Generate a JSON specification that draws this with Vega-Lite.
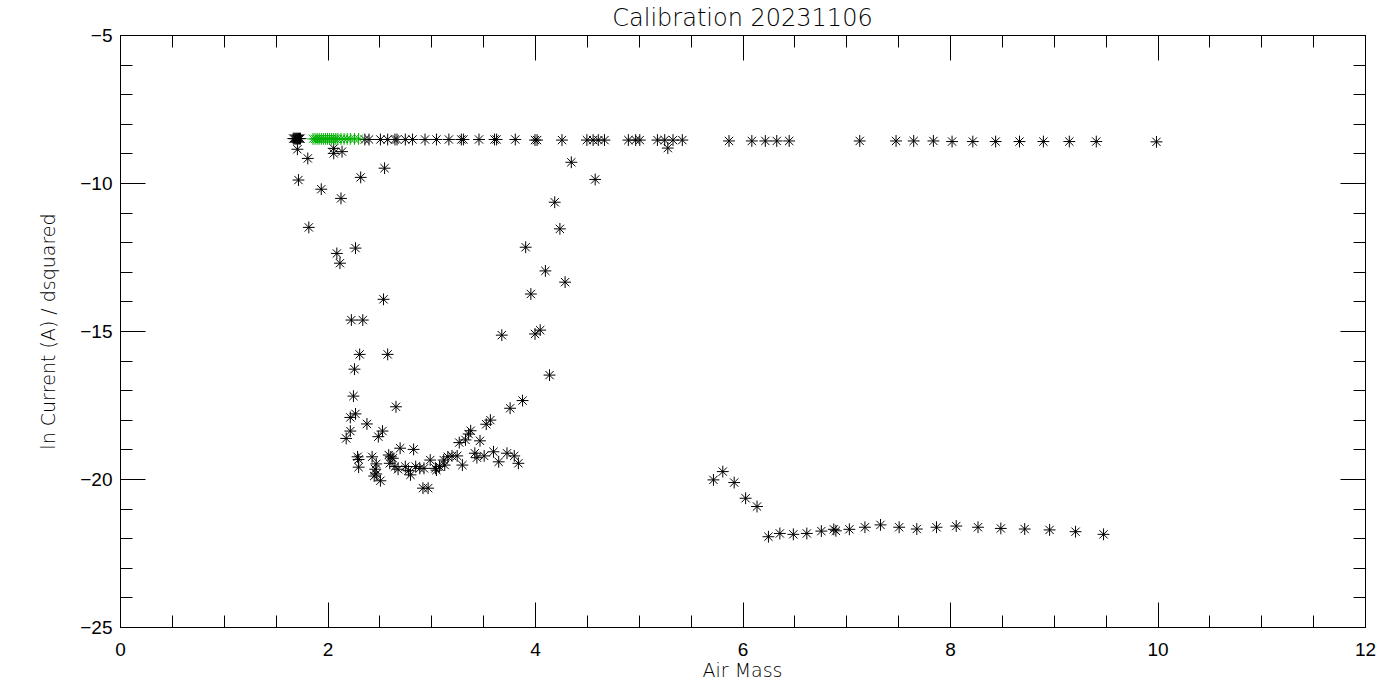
{
  "$schema": "https://vega.github.io/schema/vega-lite/v6.json",
  "autosize": "none",
  "width": 1245,
  "height": 592,
  "padding": {"left": 120, "top": 35, "right": 35, "bottom": 73},
  "background": "white",
  "config": {
    "view": {"stroke": "black", "strokeWidth": 1},
    "font": "DejaVu Sans",
    "axis": {"domainColor": "black", "tickColor": "black", "labelColor": "black", "titleColor": "black", "grid": false, "labelFont": "Liberation Sans", "titleFont": "DejaVu Sans", "labelFontSize": 19, "titleFontSize": 19, "titleFontWeight": 200, "labelFontWeight": "normal", "labelFlush": false, "labelOverlap": false, "labelBound": false}
  },
  "title": {"text": "Calibration 20231106", "fontSize": 24, "fontWeight": 200, "color": "black", "anchor": "middle", "offset": -5, "font": "DejaVu Sans"},
  "data": {"values": [
    {"airmass": 1.67, "lnI": -8.50, "grp": "k"},
    {"airmass": 1.68, "lnI": -8.50, "grp": "k"},
    {"airmass": 1.69, "lnI": -8.50, "grp": "k"},
    {"airmass": 1.70, "lnI": -8.50, "grp": "k"},
    {"airmass": 1.71, "lnI": -8.50, "grp": "k"},
    {"airmass": 1.72, "lnI": -8.50, "grp": "k"},
    {"airmass": 1.73, "lnI": -8.50, "grp": "k"},
    {"airmass": 1.74, "lnI": -8.50, "grp": "k"},
    {"airmass": 2.36, "lnI": -8.53, "grp": "k"},
    {"airmass": 2.40, "lnI": -8.53, "grp": "k"},
    {"airmass": 2.51, "lnI": -8.53, "grp": "k"},
    {"airmass": 2.58, "lnI": -8.53, "grp": "k"},
    {"airmass": 2.65, "lnI": -8.53, "grp": "k"},
    {"airmass": 2.67, "lnI": -8.53, "grp": "k"},
    {"airmass": 2.75, "lnI": -8.53, "grp": "k"},
    {"airmass": 2.82, "lnI": -8.53, "grp": "k"},
    {"airmass": 2.94, "lnI": -8.53, "grp": "k"},
    {"airmass": 3.05, "lnI": -8.53, "grp": "k"},
    {"airmass": 3.17, "lnI": -8.53, "grp": "k"},
    {"airmass": 3.29, "lnI": -8.53, "grp": "k"},
    {"airmass": 3.31, "lnI": -8.53, "grp": "k"},
    {"airmass": 3.46, "lnI": -8.53, "grp": "k"},
    {"airmass": 3.61, "lnI": -8.53, "grp": "k"},
    {"airmass": 3.63, "lnI": -8.53, "grp": "k"},
    {"airmass": 3.81, "lnI": -8.53, "grp": "k"},
    {"airmass": 4.00, "lnI": -8.55, "grp": "k"},
    {"airmass": 4.02, "lnI": -8.55, "grp": "k"},
    {"airmass": 4.26, "lnI": -8.55, "grp": "k"},
    {"airmass": 4.50, "lnI": -8.55, "grp": "k"},
    {"airmass": 4.56, "lnI": -8.55, "grp": "k"},
    {"airmass": 4.61, "lnI": -8.55, "grp": "k"},
    {"airmass": 4.67, "lnI": -8.55, "grp": "k"},
    {"airmass": 4.90, "lnI": -8.55, "grp": "k"},
    {"airmass": 4.97, "lnI": -8.55, "grp": "k"},
    {"airmass": 5.01, "lnI": -8.55, "grp": "k"},
    {"airmass": 5.18, "lnI": -8.55, "grp": "k"},
    {"airmass": 5.25, "lnI": -8.55, "grp": "k"},
    {"airmass": 5.33, "lnI": -8.55, "grp": "k"},
    {"airmass": 5.42, "lnI": -8.55, "grp": "k"},
    {"airmass": 5.28, "lnI": -8.82, "grp": "k"},
    {"airmass": 5.87, "lnI": -8.58, "grp": "k"},
    {"airmass": 6.09, "lnI": -8.58, "grp": "k"},
    {"airmass": 6.22, "lnI": -8.58, "grp": "k"},
    {"airmass": 6.33, "lnI": -8.58, "grp": "k"},
    {"airmass": 6.45, "lnI": -8.58, "grp": "k"},
    {"airmass": 7.13, "lnI": -8.58, "grp": "k"},
    {"airmass": 7.48, "lnI": -8.58, "grp": "k"},
    {"airmass": 7.65, "lnI": -8.58, "grp": "k"},
    {"airmass": 7.84, "lnI": -8.58, "grp": "k"},
    {"airmass": 8.02, "lnI": -8.60, "grp": "k"},
    {"airmass": 8.22, "lnI": -8.60, "grp": "k"},
    {"airmass": 8.44, "lnI": -8.60, "grp": "k"},
    {"airmass": 8.67, "lnI": -8.60, "grp": "k"},
    {"airmass": 8.90, "lnI": -8.60, "grp": "k"},
    {"airmass": 9.15, "lnI": -8.60, "grp": "k"},
    {"airmass": 9.41, "lnI": -8.60, "grp": "k"},
    {"airmass": 9.99, "lnI": -8.61, "grp": "k"},
    {"airmass": 1.71, "lnI": -8.86, "grp": "k"},
    {"airmass": 1.81, "lnI": -9.17, "grp": "k"},
    {"airmass": 2.06, "lnI": -8.83, "grp": "k"},
    {"airmass": 2.06, "lnI": -9.00, "grp": "k"},
    {"airmass": 2.14, "lnI": -8.94, "grp": "k"},
    {"airmass": 2.55, "lnI": -9.50, "grp": "k"},
    {"airmass": 1.72, "lnI": -9.90, "grp": "k"},
    {"airmass": 2.32, "lnI": -9.81, "grp": "k"},
    {"airmass": 1.94, "lnI": -10.21, "grp": "k"},
    {"airmass": 2.13, "lnI": -10.52, "grp": "k"},
    {"airmass": 1.82, "lnI": -11.50, "grp": "k"},
    {"airmass": 2.27, "lnI": -12.20, "grp": "k"},
    {"airmass": 2.09, "lnI": -12.38, "grp": "k"},
    {"airmass": 2.12, "lnI": -12.71, "grp": "k"},
    {"airmass": 2.54, "lnI": -13.93, "grp": "k"},
    {"airmass": 2.23, "lnI": -14.63, "grp": "k"},
    {"airmass": 2.34, "lnI": -14.63, "grp": "k"},
    {"airmass": 3.68, "lnI": -15.14, "grp": "k"},
    {"airmass": 4.00, "lnI": -15.10, "grp": "k"},
    {"airmass": 4.05, "lnI": -14.97, "grp": "k"},
    {"airmass": 2.31, "lnI": -15.79, "grp": "k"},
    {"airmass": 2.58, "lnI": -15.79, "grp": "k"},
    {"airmass": 4.14, "lnI": -16.49, "grp": "k"},
    {"airmass": 2.26, "lnI": -16.29, "grp": "k"},
    {"airmass": 2.25, "lnI": -17.20, "grp": "k"},
    {"airmass": 2.66, "lnI": -17.56, "grp": "k"},
    {"airmass": 3.88, "lnI": -17.35, "grp": "k"},
    {"airmass": 3.76, "lnI": -17.61, "grp": "k"},
    {"airmass": 2.27, "lnI": -17.80, "grp": "k"},
    {"airmass": 2.22, "lnI": -17.92, "grp": "k"},
    {"airmass": 2.38, "lnI": -18.14, "grp": "k"},
    {"airmass": 2.53, "lnI": -18.38, "grp": "k"},
    {"airmass": 2.49, "lnI": -18.57, "grp": "k"},
    {"airmass": 2.22, "lnI": -18.38, "grp": "k"},
    {"airmass": 2.18, "lnI": -18.63, "grp": "k"},
    {"airmass": 3.57, "lnI": -18.01, "grp": "k"},
    {"airmass": 3.53, "lnI": -18.15, "grp": "k"},
    {"airmass": 3.38, "lnI": -18.37, "grp": "k"},
    {"airmass": 3.36, "lnI": -18.48, "grp": "k"},
    {"airmass": 3.33, "lnI": -18.68, "grp": "k"},
    {"airmass": 3.27, "lnI": -18.77, "grp": "k"},
    {"airmass": 3.47, "lnI": -18.71, "grp": "k"},
    {"airmass": 2.70, "lnI": -18.96, "grp": "k"},
    {"airmass": 2.83, "lnI": -19.00, "grp": "k"},
    {"airmass": 3.42, "lnI": -19.13, "grp": "k"},
    {"airmass": 3.44, "lnI": -19.28, "grp": "k"},
    {"airmass": 3.51, "lnI": -19.22, "grp": "k"},
    {"airmass": 3.60, "lnI": -19.08, "grp": "k"},
    {"airmass": 3.65, "lnI": -19.42, "grp": "k"},
    {"airmass": 3.73, "lnI": -19.13, "grp": "k"},
    {"airmass": 3.80, "lnI": -19.22, "grp": "k"},
    {"airmass": 3.84, "lnI": -19.47, "grp": "k"},
    {"airmass": 3.30, "lnI": -19.53, "grp": "k"},
    {"airmass": 2.29, "lnI": -19.25, "grp": "k"},
    {"airmass": 2.30, "lnI": -19.34, "grp": "k"},
    {"airmass": 2.30, "lnI": -19.60, "grp": "k"},
    {"airmass": 2.43, "lnI": -19.25, "grp": "k"},
    {"airmass": 2.47, "lnI": -19.49, "grp": "k"},
    {"airmass": 2.46, "lnI": -19.67, "grp": "k"},
    {"airmass": 2.47, "lnI": -19.83, "grp": "k"},
    {"airmass": 2.45, "lnI": -19.90, "grp": "k"},
    {"airmass": 2.51, "lnI": -20.06, "grp": "k"},
    {"airmass": 2.59, "lnI": -19.19, "grp": "k"},
    {"airmass": 2.61, "lnI": -19.25, "grp": "k"},
    {"airmass": 2.63, "lnI": -19.30, "grp": "k"},
    {"airmass": 2.60, "lnI": -19.47, "grp": "k"},
    {"airmass": 2.65, "lnI": -19.58, "grp": "k"},
    {"airmass": 2.68, "lnI": -19.67, "grp": "k"},
    {"airmass": 2.75, "lnI": -19.58, "grp": "k"},
    {"airmass": 2.78, "lnI": -19.72, "grp": "k"},
    {"airmass": 2.80, "lnI": -19.86, "grp": "k"},
    {"airmass": 2.85, "lnI": -19.58, "grp": "k"},
    {"airmass": 2.89, "lnI": -19.64, "grp": "k"},
    {"airmass": 2.93, "lnI": -19.64, "grp": "k"},
    {"airmass": 2.99, "lnI": -19.36, "grp": "k"},
    {"airmass": 3.04, "lnI": -19.64, "grp": "k"},
    {"airmass": 3.05, "lnI": -19.70, "grp": "k"},
    {"airmass": 3.08, "lnI": -19.58, "grp": "k"},
    {"airmass": 3.12, "lnI": -19.36, "grp": "k"},
    {"airmass": 3.13, "lnI": -19.53, "grp": "k"},
    {"airmass": 3.16, "lnI": -19.25, "grp": "k"},
    {"airmass": 3.20, "lnI": -19.22, "grp": "k"},
    {"airmass": 3.25, "lnI": -19.22, "grp": "k"},
    {"airmass": 2.92, "lnI": -20.31, "grp": "k"},
    {"airmass": 2.97, "lnI": -20.31, "grp": "k"},
    {"airmass": 4.35, "lnI": -9.30, "grp": "k"},
    {"airmass": 4.58, "lnI": -9.88, "grp": "k"},
    {"airmass": 4.19, "lnI": -10.65, "grp": "k"},
    {"airmass": 4.24, "lnI": -11.55, "grp": "k"},
    {"airmass": 3.91, "lnI": -12.17, "grp": "k"},
    {"airmass": 4.10, "lnI": -12.97, "grp": "k"},
    {"airmass": 4.29, "lnI": -13.35, "grp": "k"},
    {"airmass": 3.96, "lnI": -13.75, "grp": "k"},
    {"airmass": 5.72, "lnI": -20.03, "grp": "k"},
    {"airmass": 5.81, "lnI": -19.75, "grp": "k"},
    {"airmass": 5.92, "lnI": -20.12, "grp": "k"},
    {"airmass": 6.03, "lnI": -20.65, "grp": "k"},
    {"airmass": 6.14, "lnI": -20.93, "grp": "k"},
    {"airmass": 6.25, "lnI": -21.95, "grp": "k"},
    {"airmass": 6.36, "lnI": -21.84, "grp": "k"},
    {"airmass": 6.49, "lnI": -21.87, "grp": "k"},
    {"airmass": 6.62, "lnI": -21.84, "grp": "k"},
    {"airmass": 6.76, "lnI": -21.76, "grp": "k"},
    {"airmass": 6.88, "lnI": -21.70, "grp": "k"},
    {"airmass": 6.90, "lnI": -21.75, "grp": "k"},
    {"airmass": 7.03, "lnI": -21.70, "grp": "k"},
    {"airmass": 7.18, "lnI": -21.63, "grp": "k"},
    {"airmass": 7.33, "lnI": -21.55, "grp": "k"},
    {"airmass": 7.51, "lnI": -21.63, "grp": "k"},
    {"airmass": 7.68, "lnI": -21.69, "grp": "k"},
    {"airmass": 7.87, "lnI": -21.63, "grp": "k"},
    {"airmass": 8.06, "lnI": -21.59, "grp": "k"},
    {"airmass": 8.27, "lnI": -21.63, "grp": "k"},
    {"airmass": 8.49, "lnI": -21.67, "grp": "k"},
    {"airmass": 8.72, "lnI": -21.69, "grp": "k"},
    {"airmass": 8.96, "lnI": -21.72, "grp": "k"},
    {"airmass": 9.21, "lnI": -21.78, "grp": "k"},
    {"airmass": 9.48, "lnI": -21.87, "grp": "k"},
    {"airmass": 1.86, "lnI": -8.51, "grp": "g"},
    {"airmass": 1.88, "lnI": -8.51, "grp": "g"},
    {"airmass": 1.90, "lnI": -8.51, "grp": "g"},
    {"airmass": 1.92, "lnI": -8.51, "grp": "g"},
    {"airmass": 1.94, "lnI": -8.51, "grp": "g"},
    {"airmass": 1.96, "lnI": -8.51, "grp": "g"},
    {"airmass": 1.98, "lnI": -8.51, "grp": "g"},
    {"airmass": 2.00, "lnI": -8.51, "grp": "g"},
    {"airmass": 2.02, "lnI": -8.51, "grp": "g"},
    {"airmass": 2.04, "lnI": -8.51, "grp": "g"},
    {"airmass": 2.06, "lnI": -8.51, "grp": "g"},
    {"airmass": 2.08, "lnI": -8.51, "grp": "g"},
    {"airmass": 2.10, "lnI": -8.51, "grp": "g"},
    {"airmass": 2.13, "lnI": -8.51, "grp": "g"},
    {"airmass": 2.16, "lnI": -8.51, "grp": "g"},
    {"airmass": 2.19, "lnI": -8.51, "grp": "g"},
    {"airmass": 2.22, "lnI": -8.51, "grp": "g"},
    {"airmass": 2.26, "lnI": -8.51, "grp": "g"},
    {"airmass": 2.30, "lnI": -8.51, "grp": "g"}
  ]},
  "layer": [
    {
      "transform": [{"filter": "datum.grp === 'k'"}],
      "mark": {"type": "point", "shape": "M-1,0L1,0M0,-1L0,1M-0.7,-0.7L0.7,0.7M-0.7,0.7L0.7,-0.7", "filled": false, "stroke": "black", "strokeWidth": 1, "size": 140, "opacity": 1},
      "encoding": {
        "x": {"field": "airmass", "type": "quantitative", "scale": {"domain": [0, 12], "nice": false, "zero": false},
          "axis": {"orient": "bottom", "title": "Air Mass", "values": [0,0.5,1,1.5,2,2.5,3,3.5,4,4.5,5,5.5,6,6.5,7,7.5,8,8.5,9,9.5,10,10.5,11,11.5,12],
            "labelExpr": "datum.value % 2 === 0 ? format(datum.value, 'd') : ''",
            "tickSize": {"condition": {"test": "datum.value % 2 === 0", "value": -25}, "value": -12},
            "labelPadding": 38, "titleX": 622, "titleY": 43, "titleBaseline": "middle", "titleAlign": "center"}},
        "y": {"field": "lnI", "type": "quantitative", "scale": {"domain": [-25, -5], "nice": false, "zero": false},
          "axis": {"orient": "left", "title": "ln Current (A) / dsquared", "values": [-25,-24,-23,-22,-21,-20,-19,-18,-17,-16,-15,-14,-13,-12,-11,-10,-9,-8,-7,-6,-5],
            "labelExpr": "datum.value % 5 === 0 ? format(datum.value, 'd') : ''",
            "tickSize": {"condition": {"test": "datum.value % 5 === 0", "value": -25}, "value": -12},
            "labelPadding": 33, "titleX": -72, "titleY": 296, "titleAngle": -90, "titleBaseline": "middle", "titleAlign": "center"}}
      }
    },
    {
      "transform": [{"filter": "datum.grp === 'g'"}],
      "mark": {"type": "point", "shape": "M-1,0L1,0M0,-1L0,1M-0.7,-0.7L0.7,0.7M-0.7,0.7L0.7,-0.7", "filled": false, "stroke": "#00b000", "strokeWidth": 1, "size": 140, "opacity": 1},
      "encoding": {
        "x": {"field": "airmass", "type": "quantitative", "scale": {"domain": [0, 12], "nice": false, "zero": false},
          "axis": {"orient": "top", "title": null, "labels": false, "values": [0,0.5,1,1.5,2,2.5,3,3.5,4,4.5,5,5.5,6,6.5,7,7.5,8,8.5,9,9.5,10,10.5,11,11.5,12],
            "tickSize": {"condition": {"test": "datum.value % 2 === 0", "value": -25}, "value": -12}}},
        "y": {"field": "lnI", "type": "quantitative", "scale": {"domain": [-25, -5], "nice": false, "zero": false},
          "axis": {"orient": "right", "title": null, "labels": false, "values": [-25,-24,-23,-22,-21,-20,-19,-18,-17,-16,-15,-14,-13,-12,-11,-10,-9,-8,-7,-6,-5],
            "tickSize": {"condition": {"test": "datum.value % 5 === 0", "value": -25}, "value": -12}}}
      }
    }
  ],
  "resolve": {"axis": {"x": "independent", "y": "independent"}}
}
